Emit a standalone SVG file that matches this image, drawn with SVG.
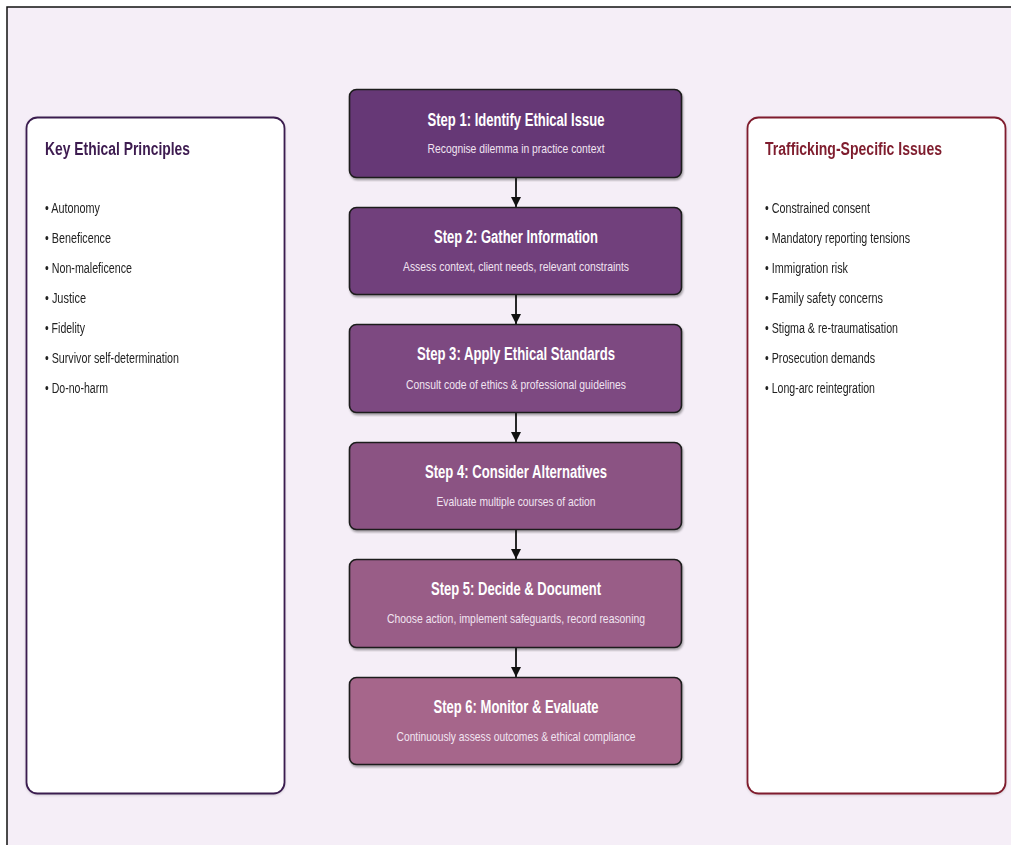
<svg xmlns="http://www.w3.org/2000/svg" width="1011" height="845" viewBox="0 0 1011 845">
<style>
text{font-family:"Liberation Sans Narrow","Liberation Sans",Arial,sans-serif}
.step{stroke:#1c1c1c;stroke-width:1.6}
.st{font-size:18px;font-weight:bold;fill:#ffffff;text-anchor:middle}
.ss{font-size:13.5px;fill:#f1e4f1;text-anchor:middle}
.ptitle{font-size:18px;font-weight:bold}
.item{font-size:14px;fill:#222222}
.conn line{stroke:#111111;stroke-width:1.8}
</style>
<defs>
<marker id="arr" viewBox="0 0 10 10" refX="10" refY="5" markerWidth="10" markerHeight="10" markerUnits="userSpaceOnUse" orient="auto">
<path d="M0,0 L10,5 L0,10 z" fill="#111111"/>
</marker>
<filter id="sh" x="-5%" y="-5%" width="110%" height="110%">
<feDropShadow dx="1" dy="2" stdDeviation="1" flood-color="#000" flood-opacity="0.35"/>
</filter>
<filter id="psh" x="-5%" y="-5%" width="110%" height="110%">
<feDropShadow dx="0" dy="1" stdDeviation="1.2" flood-color="#000" flood-opacity="0.15"/>
</filter>
</defs>
<rect width="1011" height="845" fill="#ffffff"/>
<rect x="7" y="7" width="1020" height="860" fill="#f5eef7" stroke="#111111" stroke-width="1.5"/>

<g id="panel-principles" filter="url(#psh)">
<rect x="26.5" y="117.5" width="258" height="676" rx="11" fill="#ffffff" stroke="#3b1e4f" stroke-width="1.8"/>
<text class="ptitle" x="45" y="155" fill="#3d1a50" textLength="145" lengthAdjust="spacingAndGlyphs">Key Ethical Principles</text>
<text class="item" x="45" y="213" textLength="55" lengthAdjust="spacingAndGlyphs">• Autonomy</text>
<text class="item" x="45" y="243" textLength="66" lengthAdjust="spacingAndGlyphs">• Beneficence</text>
<text class="item" x="45" y="273" textLength="87" lengthAdjust="spacingAndGlyphs">• Non-maleficence</text>
<text class="item" x="45" y="303" textLength="41" lengthAdjust="spacingAndGlyphs">• Justice</text>
<text class="item" x="45" y="333" textLength="40" lengthAdjust="spacingAndGlyphs">• Fidelity</text>
<text class="item" x="45" y="363" textLength="134" lengthAdjust="spacingAndGlyphs">• Survivor self-determination</text>
<text class="item" x="45" y="393" textLength="63" lengthAdjust="spacingAndGlyphs">• Do-no-harm</text>
</g>

<g id="panel-issues" filter="url(#psh)">
<rect x="747.5" y="117.5" width="258" height="676" rx="11" fill="#ffffff" stroke="#7f1d2d" stroke-width="1.8"/>
<text class="ptitle" x="765" y="155" fill="#7f1d2d" textLength="177" lengthAdjust="spacingAndGlyphs">Trafficking-Specific Issues</text>
<text class="item" x="765" y="213" textLength="105" lengthAdjust="spacingAndGlyphs">• Constrained consent</text>
<text class="item" x="765" y="243" textLength="145" lengthAdjust="spacingAndGlyphs">• Mandatory reporting tensions</text>
<text class="item" x="765" y="273" textLength="83" lengthAdjust="spacingAndGlyphs">• Immigration risk</text>
<text class="item" x="765" y="303" textLength="118" lengthAdjust="spacingAndGlyphs">• Family safety concerns</text>
<text class="item" x="765" y="333" textLength="133" lengthAdjust="spacingAndGlyphs">• Stigma &amp; re-traumatisation</text>
<text class="item" x="765" y="363" textLength="110" lengthAdjust="spacingAndGlyphs">• Prosecution demands</text>
<text class="item" x="765" y="393" textLength="110" lengthAdjust="spacingAndGlyphs">• Long-arc reintegration</text>
</g>

<g id="connectors" class="conn">
<line x1="516" y1="178" x2="516" y2="207" marker-end="url(#arr)"/>
<line x1="516" y1="295" x2="516" y2="324" marker-end="url(#arr)"/>
<line x1="516" y1="413" x2="516" y2="442" marker-end="url(#arr)"/>
<line x1="516" y1="530" x2="516" y2="559" marker-end="url(#arr)"/>
<line x1="516" y1="648" x2="516" y2="677" marker-end="url(#arr)"/>
</g>

<g id="step1">
<rect class="step" x="349.5" y="89.5" width="332" height="88" rx="7" fill="#663876" filter="url(#sh)"/>
<text class="st" x="516" y="126" textLength="177" lengthAdjust="spacingAndGlyphs">Step 1: Identify Ethical Issue</text>
<text class="ss" x="516" y="153" textLength="177" lengthAdjust="spacingAndGlyphs">Recognise dilemma in practice context</text>
</g>
<g id="step2">
<rect class="step" x="349.5" y="207.5" width="332" height="87" rx="7" fill="#71407c" filter="url(#sh)"/>
<text class="st" x="516" y="243" textLength="164" lengthAdjust="spacingAndGlyphs">Step 2: Gather Information</text>
<text class="ss" x="516" y="271" textLength="226" lengthAdjust="spacingAndGlyphs">Assess context, client needs, relevant constraints</text>
</g>
<g id="step3">
<rect class="step" x="349.5" y="324.5" width="332" height="88" rx="7" fill="#7d4981" filter="url(#sh)"/>
<text class="st" x="516" y="360" textLength="198" lengthAdjust="spacingAndGlyphs">Step 3: Apply Ethical Standards</text>
<text class="ss" x="516" y="389" textLength="220" lengthAdjust="spacingAndGlyphs">Consult code of ethics &amp; professional guidelines</text>
</g>
<g id="step4">
<rect class="step" x="349.5" y="442.5" width="332" height="87" rx="7" fill="#8b5383" filter="url(#sh)"/>
<text class="st" x="516" y="478" textLength="182" lengthAdjust="spacingAndGlyphs">Step 4: Consider Alternatives</text>
<text class="ss" x="516" y="506" textLength="159" lengthAdjust="spacingAndGlyphs">Evaluate multiple courses of action</text>
</g>
<g id="step5">
<rect class="step" x="349.5" y="559.5" width="332" height="88" rx="7" fill="#995d87" filter="url(#sh)"/>
<text class="st" x="516" y="595" textLength="170" lengthAdjust="spacingAndGlyphs">Step 5: Decide &amp; Document</text>
<text class="ss" x="516" y="623" textLength="258" lengthAdjust="spacingAndGlyphs">Choose action, implement safeguards, record reasoning</text>
</g>
<g id="step6">
<rect class="step" x="349.5" y="677.5" width="332" height="87" rx="7" fill="#a6668b" filter="url(#sh)"/>
<text class="st" x="516" y="713" textLength="165" lengthAdjust="spacingAndGlyphs">Step 6: Monitor &amp; Evaluate</text>
<text class="ss" x="516" y="741" textLength="239" lengthAdjust="spacingAndGlyphs">Continuously assess outcomes &amp; ethical compliance</text>
</g>
</svg>
